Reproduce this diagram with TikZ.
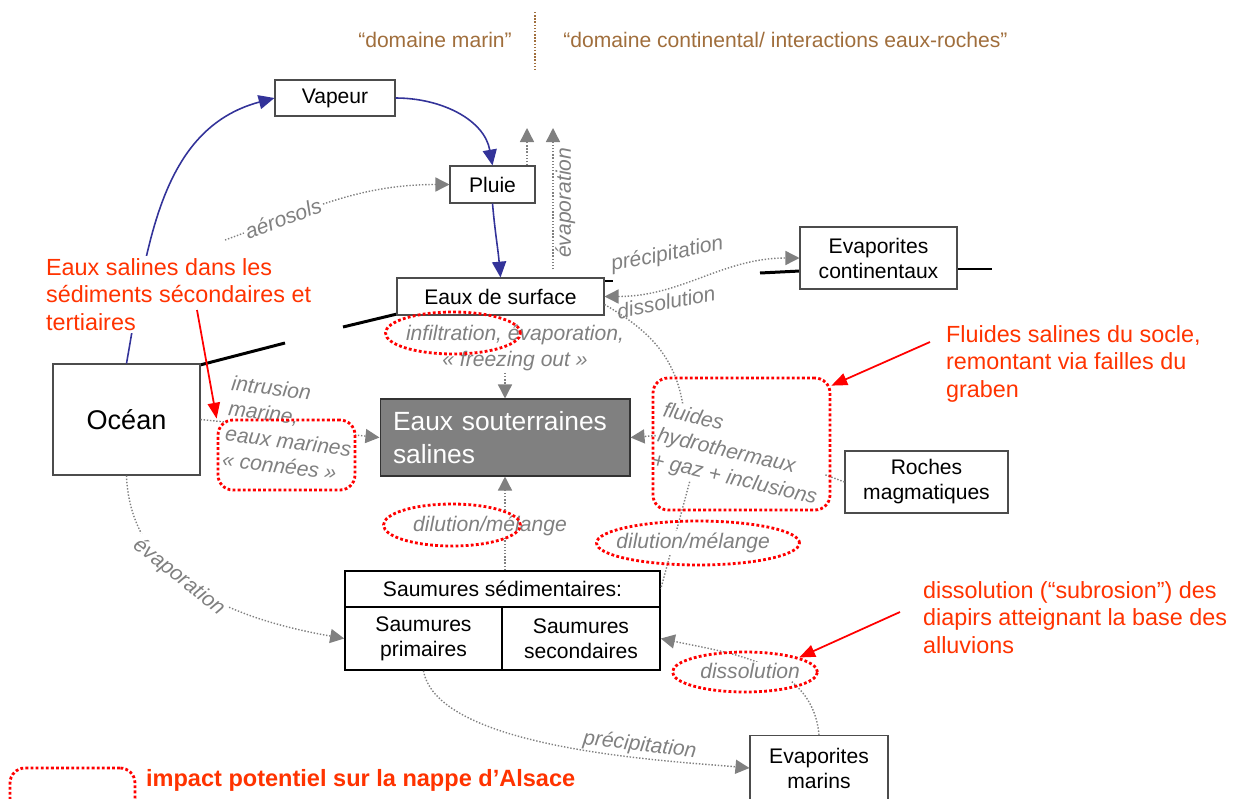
\documentclass[tikz,border=0pt]{standalone}
\usepackage{fontspec}
\setmainfont{Liberation Sans}
\usetikzlibrary{arrows.meta,shapes.geometric}
\definecolor{waterblue}{RGB}{51,51,153}
\definecolor{linegray}{RGB}{128,128,128}
\definecolor{soutgray}{RGB}{128,128,128}
\definecolor{notered}{RGB}{255,51,0}
\definecolor{domainbrown}{RGB}{160,110,60}
\tikzset{
  box/.style={draw=black!70, line width=0.6pt, fill=white, align=center,
    font=\fontsize{12}{14.2}\selectfont, inner sep=1pt},
  saumbox/.style={box, draw=black, line width=0.9pt},
  lbl/.style={text=linegray, font=\fontsize{12}{14.5}\selectfont\itshape, inner sep=1pt},
  flow/.style={draw=linegray, line width=0.8pt, densely dotted, -{Triangle[length=8pt,width=8pt]}},
  link/.style={draw=linegray, line width=0.8pt, densely dotted},
  water/.style={draw=waterblue, line width=0.9pt, -{Triangle[length=9pt,width=8pt]}},
  hlmark/.style={draw=red, line width=1.6pt, dash pattern=on 1.6pt off 1.3pt, inner sep=0pt},
  hlellipse/.style={hlmark, ellipse},
  hlbox/.style={hlmark, rectangle, rounded corners=0.3cm},
  note/.style={text=notered, font=\fontsize{13.3}{15.9}\selectfont, align=left, inner sep=1pt},
  pointer/.style={draw=red, line width=1pt, -{Triangle[length=9pt,width=7pt]}},
  boundary/.style={draw=black, line width=1.7pt},
  domaintxt/.style={text=domainbrown, font=\fontsize{12}{14}\selectfont},
  domainsep/.style={draw=domainbrown, line width=0.8pt, densely dotted},
}
\begin{document}
\begin{tikzpicture}[x=0.02cm,y=0.02cm]
  \useasboundingbox (0,0) rectangle (1234,-798);
  % domaines
  \node[domaintxt] (marin) at (435,-40) {“domaine marin”};
  \node[domaintxt] (contin) at (785.5,-40) {“domaine continental/ interactions eaux-roches”};
  \draw[domainsep] (535,-12) -- (535,-72);

  % limites
  \draw[boundary] (200,-365) -- (285,-343);
  \draw[boundary] (343,-327) -- (397,-314);
  \draw[boundary] (604,-281) -- (613,-281);
  \draw[boundary] (760,-273) -- (800,-271);
  \draw[boundary] (957,-269) -- (992,-269);

  % reservoirs
  \node[box, minimum width=2.4cm, minimum height=0.72cm] (vapeur) at (335,-98) {Vapeur};
  \node[box, minimum width=1.7cm, minimum height=0.74cm] (pluie) at (492.5,-184.5) {Pluie};
  \node[box, minimum width=4.14cm, minimum height=0.74cm] (eauxsurf) at (500.5,-296.5) {Eaux de surface};
  \node[box, minimum width=3.14cm, minimum height=1.24cm] (evapcont) at (878.5,-258) {Evaporites\\continentaux};
  \node[box, minimum width=2.94cm, minimum height=2.22cm, font=\fontsize{15.4}{18}\selectfont] (ocean) at (126.5,-419.5) {Océan};
  \node[box, fill=soutgray, draw=black!80, text=white, align=left, inner xsep=0.26cm,
    text width=4.48cm, minimum height=1.54cm, font=\fontsize{15}{18.5}\selectfont] (eauxsout) at (505,-437.5) {Eaux souterraines\\salines};
  \node[box, minimum width=3.26cm, minimum height=1.24cm] (roches) at (926.5,-482) {Roches\\magmatiques};
  \node[saumbox, minimum width=6.3cm, minimum height=0.72cm] (saumhead) at (502.5,-589) {Saumures sédimentaires:};
  \node[saumbox, minimum width=3.14cm, minimum height=1.26cm] (saumprim) at (423.5,-638.5) {Saumures\\primaires};
  \node[saumbox, minimum width=3.16cm, minimum height=1.26cm] (saumsec) at (581,-638.5) {Saumures\\secondaires};
  \node[box, minimum width=2.76cm, minimum height=1.3cm] (evapmar) at (819,-768) {Evaporites\\marins};

  % labels libres
  \node[lbl, align=center] (infil) at (515,-348) {infiltration, évaporation,\\«~freezing out~»};
  \node[lbl, align=left, rotate=-13] (fluides) at (740,-455) {fluides\\hydrothermaux\\+ gaz + inclusions};

  % cycle de l'eau
  \draw[water] (ocean.north) to[out=80,in=195] (vapeur.west);
  \draw[water] (vapeur.east) to[out=0,in=100] (pluie.north);
  \draw[water] (pluie.south) to[out=-85,in=95] (eauxsurf.north);

  % echanges
  \coordinate (aerofrom) at (225,-240);
  \coordinate (evtopa) at (527,-128);
  \coordinate (evtopb) at (553,-128);
  \draw[flow] (aerofrom) to[out=20,in=180] node[lbl, sloped, fill=white, pos=0.25] {aérosols} (pluie.west);
  \draw[flow] (pluie.north -| evtopa) -- (evtopa);
  \draw[flow, shorten <=0.16cm] (eauxsurf.north -| evtopb) -- node[lbl, sloped, below, pos=0.5] {évaporation} (evtopb);
  \draw[flow, {Triangle[length=8pt,width=8pt]}-{Triangle[length=8pt,width=8pt]}] (eauxsurf.east) to[out=0,in=180]
    node[lbl, pos=0.35, xshift=-0.16cm, yshift=0.62cm, rotate=11] {précipitation}
    node[lbl, pos=0.3, yshift=-0.28cm, rotate=11] {dissolution} (evapcont.west);
  \draw[link] ([yshift=-0.16cm]eauxsurf.east) to[out=-30,in=100] (fluides.151);
  \draw[flow] (fluides.west) -- (eauxsout.east);
  \draw[link] (roches.west) -- (fluides.east);
  \draw[link] (fluides.221) -- node[lbl, fill=white, pos=0.57, xshift=0.4cm] {dilution/mélange} (saumhead.east);
  \draw[flow] (infil.south -| eauxsout.north) -- (eauxsout.north);
  \draw[flow] (ocean.east) -- node[lbl, fill=white, rotate=-7, align=left] {intrusion\\marine,\\eaux marines\\«~connées~»} (eauxsout.west);
  \draw[flow] (eauxsout.south |- saumhead.north) -- node[lbl, fill=white, pos=0.47, xshift=-0.3cm] {dilution/mélange} (eauxsout.south);
  \draw[flow] (ocean.south) to[out=-88,in=170] node[lbl, sloped, fill=white, pos=0.42] {évaporation} (saumprim.west);
  \draw[flow] (evapmar.north) to[out=95,in=-12] node[lbl, fill=white, xshift=-0.28cm, yshift=-0.12cm] {dissolution} (saumsec.east);
  \draw[flow] (saumprim.south) to[out=-80,in=175,looseness=0.6] node[lbl, sloped, above, pos=0.68] {précipitation} (evapmar.west);

  % impact potentiel
  \node[hlellipse, minimum width=2.7cm, minimum height=0.84cm] (hlinfil) at (453,-333) {};
  \node[hlbox, minimum width=2.74cm, minimum height=1.4cm] (hlconnee) at (286.5,-455) {};
  \node[hlbox, minimum width=3.54cm, minimum height=2.64cm] (hlfluid) at (741.5,-444) {};
  \node[hlellipse, minimum width=2.74cm, minimum height=0.84cm] (hldila) at (452,-525) {};
  \node[hlellipse, minimum width=4.06cm, minimum height=0.88cm] (hldilb) at (698,-543) {};
  \node[hlellipse, minimum width=2.9cm, minimum height=0.8cm] (hldiss) at (745,-672) {};
  \node[hlbox, minimum width=2.5cm, minimum height=0.9cm] (hllegend) at (72.5,-790.5) {};

  % notes
  \node[note, anchor=north west, fill=white] (salinestxt) at (44,-256) {Eaux salines dans les\\sédiments sécondaires et\\tertiaires};
  \node[note, anchor=north west] (fluidstxt) at (944,-323) {Fluides salines du socle,\\remontant via failles du\\graben};
  \node[note, anchor=north west] (subrostxt) at (921,-579) {dissolution (“subrosion”) des\\diapirs atteignant la base des\\alluvions};
  \node[note, font=\bfseries\fontsize{13.4}{16}\selectfont, anchor=west] (legendtxt) at (144,-780) {impact potentiel sur la nappe d’Alsace};
  \coordinate (salinesfrom) at (197,-310);
  \coordinate (fluidsfrom) at (930,-342);
  \coordinate (subrosfrom) at (900,-612);
  \draw[pointer] (salinesfrom) -- (hlconnee.north west);
  \draw[pointer] (fluidsfrom) -- (hlfluid.33);
  \draw[pointer] (subrosfrom) -- (hldiss.15);
\end{tikzpicture}
\end{document}
